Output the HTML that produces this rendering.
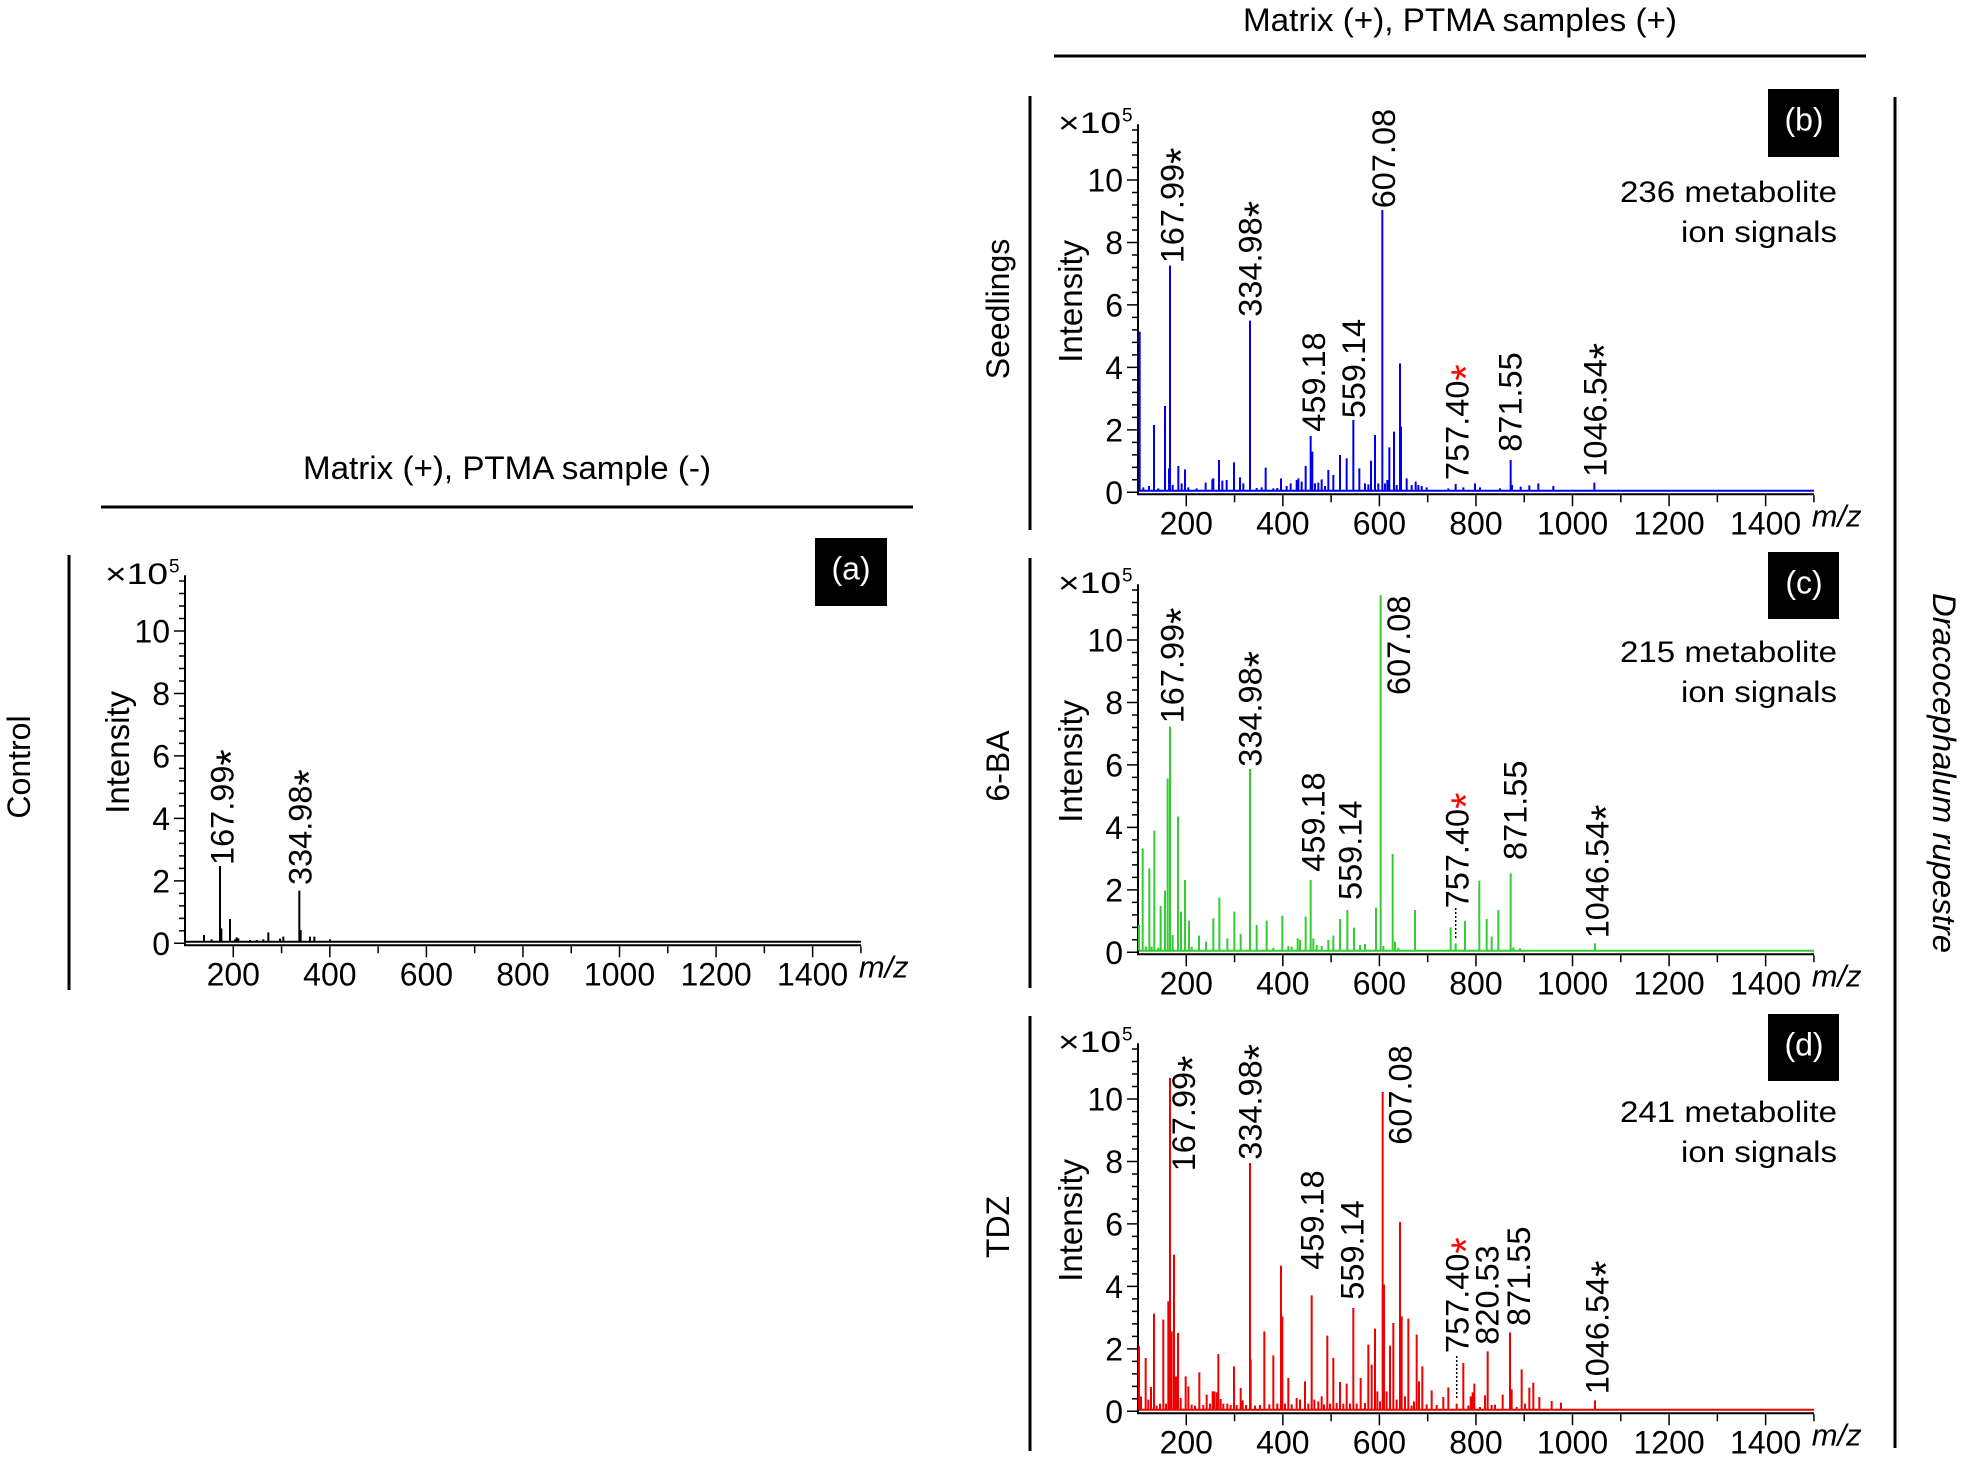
<!DOCTYPE html>
<html>
<head>
<meta charset="utf-8">
<style>
html,body{margin:0;padding:0;background:#fff;}
svg{display:block;}
text{font-family:"Liberation Sans",Arial,sans-serif;fill:#000;}
.ast{font-size:42px;}
</style>
</head>
<body>
<svg width="1962" height="1463" viewBox="0 0 1962 1463" xmlns="http://www.w3.org/2000/svg">
<rect width="1962" height="1463" fill="#fff"/>

<!-- Headers -->
<text x="507" y="479" font-size="32" text-anchor="middle" textLength="408" lengthAdjust="spacingAndGlyphs">Matrix (+), PTMA sample (-)</text>
<path d="M101 507H913" stroke="#000" stroke-width="3"/>
<text x="1460" y="31" font-size="32" text-anchor="middle" textLength="434" lengthAdjust="spacingAndGlyphs">Matrix (+), PTMA samples (+)</text>
<path d="M1054 56H1866" stroke="#000" stroke-width="3"/>

<!-- Bracket lines -->
<path d="M69 555V990M1030 96V530M1030 558V988M1030 1016V1451M1895 97V1448" stroke="#000" stroke-width="3"/>

<!-- Group labels -->
<text transform="translate(30,767) rotate(-90)" font-size="32" text-anchor="middle">Control</text>
<text transform="translate(1009,309) rotate(-90)" font-size="32" text-anchor="middle">Seedlings</text>
<text transform="translate(1009,766) rotate(-90)" font-size="32" text-anchor="middle">6-BA</text>
<text transform="translate(1009,1227) rotate(-90)" font-size="32" text-anchor="middle">TDZ</text>
<text transform="translate(1933,593) rotate(90)" font-size="32" font-style="italic" textLength="360" lengthAdjust="spacingAndGlyphs">Dracocephalum rupestre</text>

<!-- Label boxes -->
<rect x="815" y="538" width="72" height="68" fill="#000"/>
<text x="851" y="579.5" font-size="32" text-anchor="middle" style="fill:#fff">(a)</text>
<rect x="1768" y="89" width="71" height="68" fill="#000"/>
<text x="1804" y="130.5" font-size="32" text-anchor="middle" style="fill:#fff">(b)</text>
<rect x="1768" y="552" width="71" height="67" fill="#000"/>
<text x="1804" y="593.5" font-size="32" text-anchor="middle" style="fill:#fff">(c)</text>
<rect x="1768" y="1014" width="71" height="67" fill="#000"/>
<text x="1804" y="1055.5" font-size="32" text-anchor="middle" style="fill:#fff">(d)</text>

<!-- Counts -->
<text x="1837" y="202" font-size="30" text-anchor="end" textLength="217" lengthAdjust="spacingAndGlyphs">236 metabolite</text>
<text x="1837" y="242" font-size="30" text-anchor="end" textLength="156" lengthAdjust="spacingAndGlyphs">ion signals</text>
<text x="1837" y="662" font-size="30" text-anchor="end" textLength="217" lengthAdjust="spacingAndGlyphs">215 metabolite</text>
<text x="1837" y="702" font-size="30" text-anchor="end" textLength="156" lengthAdjust="spacingAndGlyphs">ion signals</text>
<text x="1837" y="1122" font-size="30" text-anchor="end" textLength="217" lengthAdjust="spacingAndGlyphs">241 metabolite</text>
<text x="1837" y="1162" font-size="30" text-anchor="end" textLength="156" lengthAdjust="spacingAndGlyphs">ion signals</text>

<!-- ===== Panel A axes ===== -->
<g transform="translate(185,943.3)">
<path d="M0 -1.5H676" stroke="#000" stroke-width="2"/>
<path d="M0 3V-368M0 2H676" stroke="#000" stroke-width="2" fill="none"/>
<path stroke="#000" stroke-width="1.5" d="M-11 0H0M-11 -62.46H0M-11 -124.92H0M-11 -187.38H0M-11 -249.84H0M-11 -312.3H0M-6 -12.49H0M-6 -24.98H0M-6 -37.48H0M-6 -49.97H0M-6 -74.95H0M-6 -87.44H0M-6 -99.94H0M-6 -112.43H0M-6 -137.41H0M-6 -149.9H0M-6 -162.4H0M-6 -174.89H0M-6 -199.87H0M-6 -212.36H0M-6 -224.86H0M-6 -237.35H0M-6 -262.33H0M-6 -274.82H0M-6 -287.32H0M-6 -299.81H0M-6 -324.79H0M-6 -337.28H0M-6 -349.78H0M-6 -362.27H0M48.28 3V14M96.56 3V10M144.84 3V14M193.12 3V10M241.4 3V14M289.68 3V10M337.96 3V14M386.24 3V10M434.52 3V14M482.8 3V10M531.08 3V14M579.36 3V10M627.64 3V14M675.92 3V10"/>
<g font-size="32" text-anchor="end">
<text x="-15" y="11.5">0</text><text x="-15" y="-51">2</text><text x="-15" y="-113.4">4</text><text x="-15" y="-175.9">6</text><text x="-15" y="-238.3">8</text><text x="-15" y="-300.8">10</text>
</g>
<g font-size="32" text-anchor="middle">
<text x="48.28" y="42">200</text><text x="144.84" y="42">400</text><text x="241.4" y="42">600</text><text x="337.96" y="42">800</text><text x="434.52" y="42">1000</text><text x="531.08" y="42">1200</text><text x="627.64" y="42">1400</text>
</g>
<text x="673.7" y="34.4" font-size="31" font-style="italic">m/z</text>
<text x="-80" y="-359.3" font-size="30" textLength="63" lengthAdjust="spacingAndGlyphs">×10</text><text x="-16" y="-371" font-size="19">5</text>
<text transform="translate(-56,-191) rotate(-90)" font-size="33" text-anchor="middle">Intensity</text>
</g>

<!-- ===== Panel B axes ===== -->
<g transform="translate(1138,492.3)">
<path d="M0 -1.5H676" stroke="#0000ee" stroke-width="2"/>
<path d="M0 3V-368M0 2H676" stroke="#000" stroke-width="2" fill="none"/>
<path stroke="#000" stroke-width="1.5" d="M-11 0H0M-11 -62.46H0M-11 -124.92H0M-11 -187.38H0M-11 -249.84H0M-11 -312.3H0M-6 -12.49H0M-6 -24.98H0M-6 -37.48H0M-6 -49.97H0M-6 -74.95H0M-6 -87.44H0M-6 -99.94H0M-6 -112.43H0M-6 -137.41H0M-6 -149.9H0M-6 -162.4H0M-6 -174.89H0M-6 -199.87H0M-6 -212.36H0M-6 -224.86H0M-6 -237.35H0M-6 -262.33H0M-6 -274.82H0M-6 -287.32H0M-6 -299.81H0M-6 -324.79H0M-6 -337.28H0M-6 -349.78H0M-6 -362.27H0M48.28 3V14M96.56 3V10M144.84 3V14M193.12 3V10M241.4 3V14M289.68 3V10M337.96 3V14M386.24 3V10M434.52 3V14M482.8 3V10M531.08 3V14M579.36 3V10M627.64 3V14M675.92 3V10"/>
<g font-size="32" text-anchor="end">
<text x="-15" y="11.5">0</text><text x="-15" y="-51">2</text><text x="-15" y="-113.4">4</text><text x="-15" y="-175.9">6</text><text x="-15" y="-238.3">8</text><text x="-15" y="-300.8">10</text>
</g>
<g font-size="32" text-anchor="middle">
<text x="48.28" y="42">200</text><text x="144.84" y="42">400</text><text x="241.4" y="42">600</text><text x="337.96" y="42">800</text><text x="434.52" y="42">1000</text><text x="531.08" y="42">1200</text><text x="627.64" y="42">1400</text>
</g>
<text x="673.7" y="34.4" font-size="31" font-style="italic">m/z</text>
<text x="-80" y="-359.3" font-size="30" textLength="63" lengthAdjust="spacingAndGlyphs">×10</text><text x="-16" y="-371" font-size="19">5</text>
<text transform="translate(-56,-191) rotate(-90)" font-size="33" text-anchor="middle">Intensity</text>
</g>

<!-- ===== Panel C axes ===== -->
<g transform="translate(1138,952.3)">
<path d="M0 -1.5H676" stroke="#33cc33" stroke-width="2"/>
<path d="M0 3V-368M0 2H676" stroke="#000" stroke-width="2" fill="none"/>
<path stroke="#000" stroke-width="1.5" d="M-11 0H0M-11 -62.46H0M-11 -124.92H0M-11 -187.38H0M-11 -249.84H0M-11 -312.3H0M-6 -12.49H0M-6 -24.98H0M-6 -37.48H0M-6 -49.97H0M-6 -74.95H0M-6 -87.44H0M-6 -99.94H0M-6 -112.43H0M-6 -137.41H0M-6 -149.9H0M-6 -162.4H0M-6 -174.89H0M-6 -199.87H0M-6 -212.36H0M-6 -224.86H0M-6 -237.35H0M-6 -262.33H0M-6 -274.82H0M-6 -287.32H0M-6 -299.81H0M-6 -324.79H0M-6 -337.28H0M-6 -349.78H0M-6 -362.27H0M48.28 3V14M96.56 3V10M144.84 3V14M193.12 3V10M241.4 3V14M289.68 3V10M337.96 3V14M386.24 3V10M434.52 3V14M482.8 3V10M531.08 3V14M579.36 3V10M627.64 3V14M675.92 3V10"/>
<g font-size="32" text-anchor="end">
<text x="-15" y="11.5">0</text><text x="-15" y="-51">2</text><text x="-15" y="-113.4">4</text><text x="-15" y="-175.9">6</text><text x="-15" y="-238.3">8</text><text x="-15" y="-300.8">10</text>
</g>
<g font-size="32" text-anchor="middle">
<text x="48.28" y="42">200</text><text x="144.84" y="42">400</text><text x="241.4" y="42">600</text><text x="337.96" y="42">800</text><text x="434.52" y="42">1000</text><text x="531.08" y="42">1200</text><text x="627.64" y="42">1400</text>
</g>
<text x="673.7" y="34.4" font-size="31" font-style="italic">m/z</text>
<text x="-80" y="-359.3" font-size="30" textLength="63" lengthAdjust="spacingAndGlyphs">×10</text><text x="-16" y="-371" font-size="19">5</text>
<text transform="translate(-56,-191) rotate(-90)" font-size="33" text-anchor="middle">Intensity</text>
</g>

<!-- ===== Panel D axes ===== -->
<g transform="translate(1138,1411.3)">
<path d="M0 -1.5H676" stroke="#ee0000" stroke-width="2"/>
<path d="M0 3V-368M0 2H676" stroke="#000" stroke-width="2" fill="none"/>
<path stroke="#000" stroke-width="1.5" d="M-11 0H0M-11 -62.46H0M-11 -124.92H0M-11 -187.38H0M-11 -249.84H0M-11 -312.3H0M-6 -12.49H0M-6 -24.98H0M-6 -37.48H0M-6 -49.97H0M-6 -74.95H0M-6 -87.44H0M-6 -99.94H0M-6 -112.43H0M-6 -137.41H0M-6 -149.9H0M-6 -162.4H0M-6 -174.89H0M-6 -199.87H0M-6 -212.36H0M-6 -224.86H0M-6 -237.35H0M-6 -262.33H0M-6 -274.82H0M-6 -287.32H0M-6 -299.81H0M-6 -324.79H0M-6 -337.28H0M-6 -349.78H0M-6 -362.27H0M48.28 3V14M96.56 3V10M144.84 3V14M193.12 3V10M241.4 3V14M289.68 3V10M337.96 3V14M386.24 3V10M434.52 3V14M482.8 3V10M531.08 3V14M579.36 3V10M627.64 3V14M675.92 3V10"/>
<g font-size="32" text-anchor="end">
<text x="-15" y="11.5">0</text><text x="-15" y="-51">2</text><text x="-15" y="-113.4">4</text><text x="-15" y="-175.9">6</text><text x="-15" y="-238.3">8</text><text x="-15" y="-300.8">10</text>
</g>
<g font-size="32" text-anchor="middle">
<text x="48.28" y="42">200</text><text x="144.84" y="42">400</text><text x="241.4" y="42">600</text><text x="337.96" y="42">800</text><text x="434.52" y="42">1000</text><text x="531.08" y="42">1200</text><text x="627.64" y="42">1400</text>
</g>
<text x="673.7" y="34.4" font-size="31" font-style="italic">m/z</text>
<text x="-80" y="-359.3" font-size="30" textLength="63" lengthAdjust="spacingAndGlyphs">×10</text><text x="-16" y="-371" font-size="19">5</text>
<text transform="translate(-56,-191) rotate(-90)" font-size="33" text-anchor="middle">Intensity</text>
</g>

<!-- ===== Peaks ===== -->
<g transform="translate(140,540) scale(0.333333)">
<path fill="none" stroke="#000" stroke-width="2" vector-effect="non-scaling-stroke" d="M192 1205V1185M215 1205V1198M240 1205V978M244 1205V1165M270 1205V1137M285 1205V1198M290 1205V1192M295 1205V1195M330 1205V1200M350 1205V1200M370 1205V1198M385 1205V1177M420 1205V1196M430 1205V1190M478 1205V1052M482 1205V1170M510 1205V1190M523 1205V1190M570 1205V1198"/>
</g>

<g transform="translate(1040,90) scale(0.333333)">
<path fill="none" stroke="#0000ee" stroke-width="2" vector-effect="non-scaling-stroke" d="M299 1202V725M310 1202V1192M327 1202V1188M342 1202V1005M355 1202V1195M375 1202V948M387 1202V1135M390 1202V527M398 1202V1185M415 1202V1128M425 1202V1180M435 1202V1138M445 1202V1192M470 1202V1195M497 1202V1178M517 1202V1168M520 1202V1165M537 1202V1110M547 1202V1172M560 1202V1170M582 1202V1117M600 1202V1162M610 1202V1180M630 1202V692M650 1202V1194M665 1202V1192M677 1202V1133M700 1202V1195M712 1202V1194M723 1202V1165M740 1202V1188M752 1202V1180M770 1202V1170M775 1202V1165M785 1202V1175M797 1202V1128M812 1202V1038M817 1202V1085M825 1202V1180M835 1202V1178M845 1202V1168M855 1202V1188M865 1202V1140M880 1202V1155M900 1202V1095M920 1202V1105M940 1202V990M958 1202V1135M975 1202V1180M985 1202V1183M993 1202V1112M1005 1202V1035M1015 1202V1180M1027 1202V360M1035 1202V1180M1042 1202V1170M1048 1202V1072M1062 1202V1025M1070 1202V1185M1080 1202V820M1083 1202V1010M1100 1202V1165M1115 1202V1185M1127 1202V1175M1135 1202V1185M1145 1202V1188M1160 1202V1192M1225 1202V1195M1247 1202V1182M1270 1202V1192M1305 1202V1180M1320 1202V1192M1380 1202V1195M1412 1202V1110M1416 1202V1185M1442 1202V1190M1468 1202V1186M1495 1202V1180M1540 1202V1188M1663 1202V1178"/>
</g>

<g transform="translate(1040,550) scale(0.333333)">
<path fill="none" stroke="#33cc33" stroke-width="2" vector-effect="non-scaling-stroke" d="M297 1202V1125M308 1202V895M318 1202V1190M328 1202V955M335 1202V1190M343 1202V842M355 1202V1193M362 1202V1068M375 1202V1022M383 1202V685M390 1202V530M398 1202V1155M414 1202V800M423 1202V1085M435 1202V990M447 1202V1112M455 1202V1190M477 1202V1157M498 1202V1175M520 1202V1105M538 1202V1043M562 1202V1165M583 1202V1085M602 1202V1152M630 1202V657M650 1202V1125M680 1202V1112M700 1202V1193M727 1202V1097M745 1202V1188M755 1202V1190M773 1202V1165M780 1202V1170M797 1202V1100M812 1202V990M820 1202V1165M830 1202V1185M845 1202V1188M865 1202V1170M880 1202V1157M900 1202V1107M922 1202V1080M942 1202V1133M960 1202V1185M975 1202V1182M1008 1202V1073M1022 1202V135M1030 1202V1188M1058 1202V912M1065 1202V1175M1075 1202V1193M1125 1202V1080M1232 1202V1132M1247 1202V1180M1275 1202V1113M1318 1202V992M1340 1202V1107M1355 1202V1160M1375 1202V1080M1412 1202V970M1420 1202V1192M1440 1202V1195M1665 1202V1180"/>
</g>

<g transform="translate(1040,983) scale(0.333333)">
<path fill="none" stroke="#ee0000" stroke-width="2" vector-effect="non-scaling-stroke" d="M297 1280V1090M303 1280V1240M317 1280V1125M325 1280V1250M333 1280V1212M342 1280V992M350 1280V1268M360 1280V1262M370 1280V1010M378 1280V1262M385 1280V955M390 1280V285M395 1280V1045M402 1280V815M408 1280V1180M414 1280V1050M422 1280V1245M437 1280V1180M445 1280V1210M455 1280V1265M465 1280V1268M478 1280V1168M490 1280V1266M500 1280V1235M510 1280V1262M518 1280V1225M523 1280V1225M530 1280V1228M535 1280V1113M542 1280V1248M550 1280V1262M562 1280V1262M572 1280V1266M582 1280V1150M590 1280V1266M602 1280V1215M608 1280V1252M618 1280V1266M630 1280V540M632 1280V1130M645 1280V1268M660 1280V1266M673 1280V1045M688 1280V1264M700 1280V1117M712 1280V1262M723 1280V848M727 1280V1000M735 1280V1262M745 1280V1185M755 1280V1264M770 1280V1245M780 1280V1250M795 1280V1195M805 1280V1262M815 1280V937M823 1280V1250M835 1280V1255M845 1280V1240M852 1280V1264M862 1280V1058M870 1280V1262M880 1280V1125M890 1280V1260M900 1280V1197M910 1280V1262M920 1280V1202M930 1280V1262M940 1280V975M950 1280V1262M962 1280V1185M975 1280V1260M985 1280V1085M995 1280V1145M1005 1280V1037M1012 1280V1225M1020 1280V1255M1028 1280V327M1032 1280V905M1040 1280V1225M1050 1280V1088M1060 1280V1020M1070 1280V1250M1080 1280V717M1085 1280V1000M1095 1280V1240M1105 1280V1007M1115 1280V1268M1122 1280V1255M1130 1280V1055M1137 1280V1195M1147 1280V1150M1160 1280V1264M1175 1280V1222M1190 1280V1266M1210 1280V1242M1225 1280V1213M1250 1280V1262M1270 1280V1140M1285 1280V1268M1292 1280V1240M1298 1280V1228M1303 1280V1202M1320 1280V1272M1335 1280V1237M1343 1280V1105M1355 1280V1266M1365 1280V1265M1388 1280V1235M1410 1280V1048M1415 1280V1219M1430 1280V1272M1445 1280V1159M1455 1280V1262M1468 1280V1214M1480 1280V1199M1498 1280V1242M1535 1280V1254M1563 1280V1259M1665 1280V1252"/>
</g>

<!-- Dotted leader lines -->
<path d="M1455.7 908V938M1456.7 1356V1399" stroke="#000" stroke-width="1.5" stroke-dasharray="2 2"/>

<!-- ===== Peak labels ===== -->
<g font-size="32.5">
<!-- a -->
<text transform="translate(233.3,865) rotate(-90)">167.99<tspan class="ast" dy="12">*</tspan></text>
<text transform="translate(311.6,885) rotate(-90)">334.98<tspan class="ast" dy="12">*</tspan></text>
<!-- b -->
<text transform="translate(1183.3,263.3) rotate(-90)">167.99<tspan class="ast" dy="12">*</tspan></text>
<text transform="translate(1261.6,316.7) rotate(-90)">334.98<tspan class="ast" dy="12">*</tspan></text>
<text transform="translate(1324.9,431.7) rotate(-90)">459.18</text>
<text transform="translate(1364.9,418.3) rotate(-90)">559.14</text>
<text transform="translate(1394.9,208.3) rotate(-90)">607.08</text>
<text transform="translate(1468.3,480) rotate(-90)">757.40<tspan class="ast" dy="12" style="fill:#ff0000">*</tspan></text>
<text transform="translate(1521.6,451.7) rotate(-90)">871.55</text>
<text transform="translate(1606.6,476.7) rotate(-90)">1046.54<tspan class="ast" dy="12">*</tspan></text>
<!-- c -->
<text transform="translate(1183.3,723.3) rotate(-90)">167.99<tspan class="ast" dy="12">*</tspan></text>
<text transform="translate(1261.6,766.7) rotate(-90)">334.98<tspan class="ast" dy="12">*</tspan></text>
<text transform="translate(1324.3,871.7) rotate(-90)">459.18</text>
<text transform="translate(1361.6,900) rotate(-90)">559.14</text>
<text transform="translate(1409.9,695) rotate(-90)">607.08</text>
<text transform="translate(1468.3,908.3) rotate(-90)">757.40<tspan class="ast" dy="12" style="fill:#ff0000">*</tspan></text>
<text transform="translate(1526.6,860) rotate(-90)">871.55</text>
<text transform="translate(1608.3,938.3) rotate(-90)">1046.54<tspan class="ast" dy="12">*</tspan></text>
<!-- d -->
<text transform="translate(1194.9,1171.3) rotate(-90)">167.99<tspan class="ast" dy="12">*</tspan></text>
<text transform="translate(1261.6,1159.7) rotate(-90)">334.98<tspan class="ast" dy="12">*</tspan></text>
<text transform="translate(1323.3,1269.7) rotate(-90)">459.18</text>
<text transform="translate(1363.3,1299.7) rotate(-90)">559.14</text>
<text transform="translate(1411.6,1144.7) rotate(-90)">607.08</text>
<text transform="translate(1468.3,1353) rotate(-90)">757.40<tspan class="ast" dy="12" style="fill:#ff0000">*</tspan></text>
<text transform="translate(1498.3,1344.7) rotate(-90)">820.53</text>
<text transform="translate(1529.9,1326) rotate(-90)">871.55</text>
<text transform="translate(1608.3,1394.3) rotate(-90)">1046.54<tspan class="ast" dy="12">*</tspan></text>
</g>
</svg>
</body>
</html>
